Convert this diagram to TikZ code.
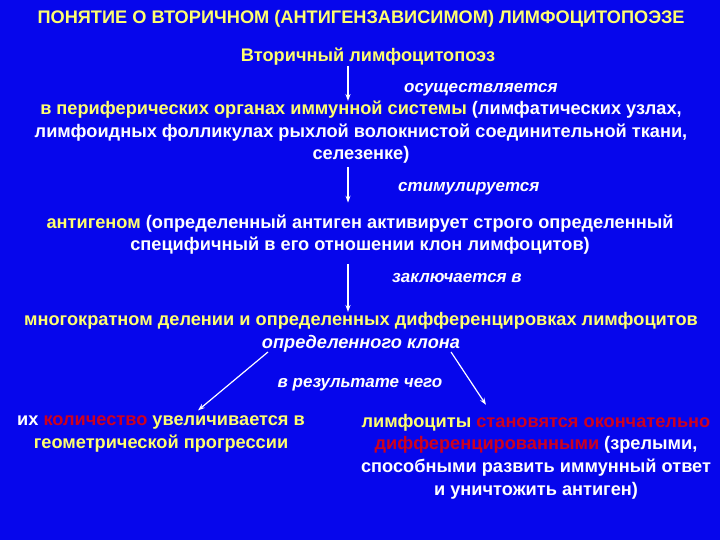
\documentclass[tikz,border=0pt]{standalone}
\usepackage{fontspec}
\setmainfont{Liberation Sans}
\usetikzlibrary{arrows.meta}
\definecolor{slideblue}{RGB}{6,6,236}
\definecolor{slideyellow}{RGB}{255,255,110}
\definecolor{slidered}{RGB}{205,0,30}
\newcommand{\yel}[1]{\textcolor{slideyellow}{#1}}
\newcommand{\rd}[1]{\textcolor{slidered}{#1}}

\begin{document}
\begin{tikzpicture}[x=1pt,y=-1pt,
  txt/.style={font=\bfseries\fontsize{18.2}{22.6}\selectfont, text=white, align=center, inner sep=0pt, anchor=base},
  lbl/.style={font=\bfseries\itshape\fontsize{17}{22}\selectfont, text=white, inner sep=0pt, anchor=base west},
  arr/.style={draw=white, line width=1.2pt, -{Stealth[length=7pt,width=5pt]}}]
  \fill[slideblue] (0,0) rectangle (720,540);

  % title and main chain (base = last line)
  \node[txt, text=slideyellow] (title) at (361,24) {ПОНЯТИЕ О ВТОРИЧНОМ (АНТИГЕНЗАВИСИМОМ) ЛИМФОЦИТОПОЭЗЕ};
  \node[txt, text=slideyellow] (second) at (368,62) {Вторичный лимфоцитопоэз};
  \node[txt] (organs) at (361,160) {\yel{в периферических органах иммунной системы} (лимфатических узлах,\\лимфоидных фолликулах рыхлой волокнистой соединительной ткани,\\селезенке)};
  \node[txt] (antigen) at (360,251) {\yel{антигеном} (определенный антиген активирует строго определенный\\специфичный в его отношении клон лимфоцитов)};
  \node[txt] (divide) at (361,348) {\yel{многократном делении и определенных дифференцировках лимфоцитов}\\\textit{определенного клона}};

  % results
  \node[txt] (grow) at (161,448) {их \rd{количество} \yel{увеличивается в}\\\yel{геометрической прогрессии}};
  \node[txt] (mature) at (536,495) {\yel{лимфоциты} \rd{становятся окончательно}\\\rd{дифференцированными} (зрелыми,\\способными развить иммунный ответ\\и уничтожить антиген)};

  % arrow labels
  \node[lbl] (l1) at (404,93) {осуществляется};
  \node[lbl] (l2) at (398,192) {стимулируется};
  \node[lbl] (l3) at (392,282) {заключается в};
  \node[lbl, anchor=base] (l4) at (360,387) {в результате чего};

  \coordinate (axis) at (348,0);
  \draw[arr] (second.south -| axis) -- (organs.north -| axis);
  \draw[arr, shorten <=3pt, shorten >=12pt] (organs.south -| axis) -- (antigen.north -| axis);
  \draw[arr, shorten <=9pt] (antigen.south -| axis) -- (divide.north -| axis);
  \draw[arr] ([xshift=-93pt]divide.south) -- ([xshift=37pt,yshift=5pt]grow.north);
  \draw[arr] ([xshift=90pt]divide.south) -- ([xshift=-50pt,yshift=9pt]mature.north);
\end{tikzpicture}
\end{document}
